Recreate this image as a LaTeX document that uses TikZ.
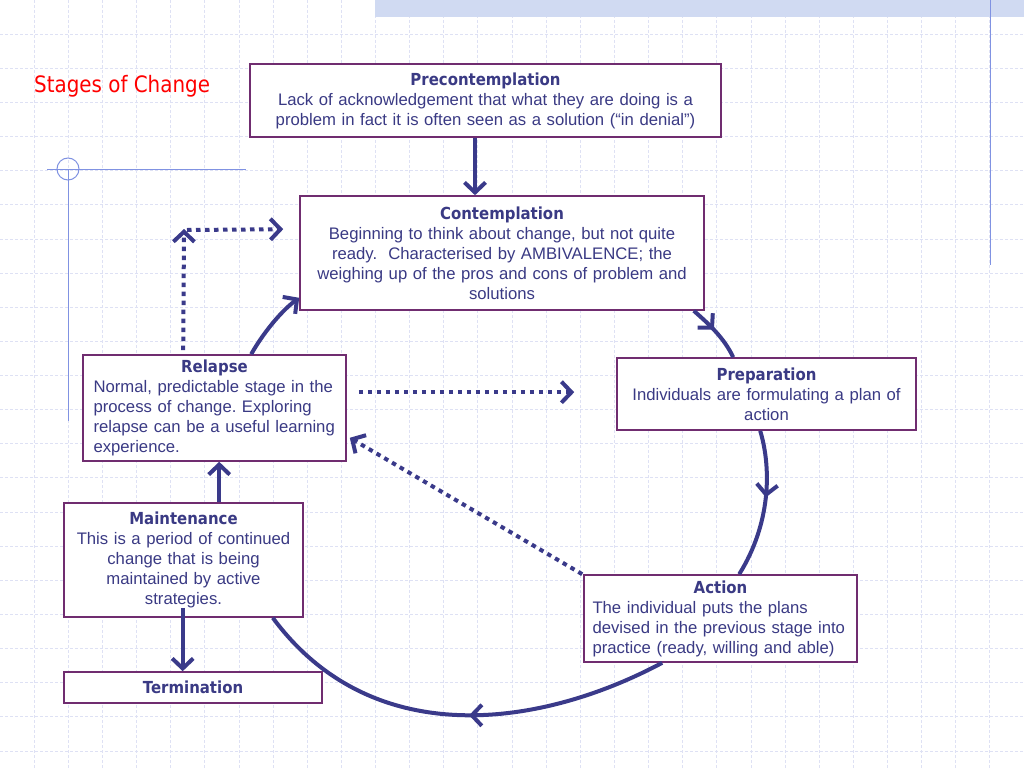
\documentclass[tikz,border=0pt]{standalone}
\usepackage{fontspec}
\setmainfont{Liberation Sans}
\newfontfamily\headfont[FakeStretch=0.9]{DejaVu Sans}
\newfontfamily\titlefont[FakeStretch=0.88]{DejaVu Sans}
\usetikzlibrary{arrows.meta,calc,decorations.markings}
\definecolor{txtc}{RGB}{58,58,132}
\definecolor{arrc}{RGB}{58,58,138}
\definecolor{boxc}{RGB}{112,45,112}
\definecolor{gridc}{RGB}{222,225,244}
\definecolor{decoc}{RGB}{128,146,226}
\definecolor{bandc}{RGB}{208,218,242}
\newcommand\stagehd[1]{{\headfont\bfseries\fontsize{16.6}{20}\selectfont #1}}
\tikzset{
  tipstyle/.tip={Straight Barb[length=10pt,width=21pt,line width=4pt]},
  stagebox/.style={draw=boxc, line width=1.6pt, fill=white, inner xsep=10.5pt, inner ysep=0pt,
    font=\fontsize{16.7}{20}\selectfont\frenchspacing, text=txtc, align=center},
  flow/.style={draw=arrc, line width=4pt, -tipstyle},
  flowplain/.style={draw=arrc, line width=4pt},
  dotflow/.style={draw=arrc, line width=4pt, dash pattern=on 4.5pt off 4.5pt, -tipstyle},
  midarrow/.style={postaction={decorate}, decoration={markings,
    mark=at position #1 with {\arrow{tipstyle}}}},
  gridline/.style={draw=gridc, line width=0.8pt, dash pattern=on 3pt off 2pt},
  decoline/.style={draw=decoc, line width=1pt}
}
\begin{document}
\begin{tikzpicture}[x=1pt,y=-1pt]
\useasboundingbox (0,0) rectangle (1024,768);
\fill[white] (0,0) rectangle (1024,768);
% grid
\foreach \i in {1,...,30} \draw[gridline] (\i*34.133,0) -- (\i*34.133,768);
\foreach \j in {1,...,22} \draw[gridline] (0,\j*34.133) -- (1024,\j*34.133);
% decorations
\fill[bandc] (375,0) rectangle (1024,17);
\draw[decoline] (990,0) -- (990,265);
\draw[decoline] (47,169) -- (246,169);
\draw[decoline] (68,169) circle (11);
\draw[decoline] (68,169) -- (68,421);
% title
\node[anchor=base west, inner sep=0pt, text=red, font=\titlefont\fontsize{22.6}{26}\selectfont] (title) at (34,92.5) {Stages of Change};
% boxes
\node[stagebox, text width=450pt, minimum height=73pt] (pre) at (485.5,100.5)
  {\stagehd{Precontemplation}\\Lack of acknowledgement that what they are doing is a\\problem in fact it is often seen as a solution (“in denial”)};
\node[stagebox, text width=383pt, minimum height=114pt] (con) at (502,253)
  {\stagehd{Contemplation}\\Beginning to think about change, but not quite\\ready.\ \ Characterised by AMBIVALENCE; the\\weighing up of the pros and cons of problem and\\solutions};
\node[stagebox, align=left, text width=242pt, minimum height=106pt] (rel) at (214.5,408)
  {\hfill\stagehd{Relapse}\hfill\null\\Normal, predictable stage in the\\process of change. Exploring\\relapse can be a useful learning\\experience.};
\node[stagebox, text width=278pt, minimum height=72pt] (prep) at (766.5,394)
  {\stagehd{Preparation}\\Individuals are formulating a plan of\\action};
\node[stagebox, text width=218pt, minimum height=114pt] (main) at (183.5,560)
  {\stagehd{Maintenance}\\This is a period of continued\\change that is being\\maintained by active\\strategies.};
\node[stagebox, text width=237pt, minimum height=31pt] (term) at (193,687.5)
  {\stagehd{Termination}};
\node[stagebox, align=left, inner xsep=8.5pt, text width=256pt, minimum height=87pt] (act) at (720.5,618.5)
  {\hfill\stagehd{Action}\hfill\null\\The individual puts the plans\\devised in the previous stage into\\practice (ready, willing and able)};
% solid connectors
\draw[flow] ($(pre.south)+(-10.5,0)$) -- ($(con.north)+(-27,0)$);
\draw[flowplain, midarrow=0.45] ($(con.south east)+(-11,0)$) .. controls (710,325) and (724,338) .. ($(prep.north west)+(117,0)$);
\draw[flowplain, midarrow=0.45] ($(prep.south west)+(144,0)$) .. controls (772,470) and (770,525) .. ($(act.north west)+(156,0)$);
\draw[flowplain, midarrow=0.47] ($(act.south west)+(79,0)$) .. controls (540,728) and (372,752) .. ($(main.south east)+(-31,0)$);
\draw[flow] ($(main.north west)+(156,0)$) -- ($(rel.south west)+(137,0)$);
\draw[flow] ($(rel.north west)+(169,0)$) .. controls (262,335) and (280,312) .. ($(con.south west)+(0,-13)$);
\draw[flow] ($(main.south west)+(119.5,-10)$) -- ($(term.north west)+(119.5,0)$);
% dotted connectors
\coordinate (bend) at (184,230);
\draw[dotflow] ($(rel.north west)+(101,-4)$) -- ($(bend)+(0,-1)$);
\draw[dotflow] ($(bend)+(3,0)$) -- ($(con.north west)+(-16,34)$);
\draw[dotflow] ($(rel.north east)+(12,38)$) -- ($(prep.north west)+(-42,35)$);
\draw[dotflow] ($(act.north west)+(-1,0)$) -- ($(rel.south east)+(3,-24)$);
\end{tikzpicture}
\end{document}
